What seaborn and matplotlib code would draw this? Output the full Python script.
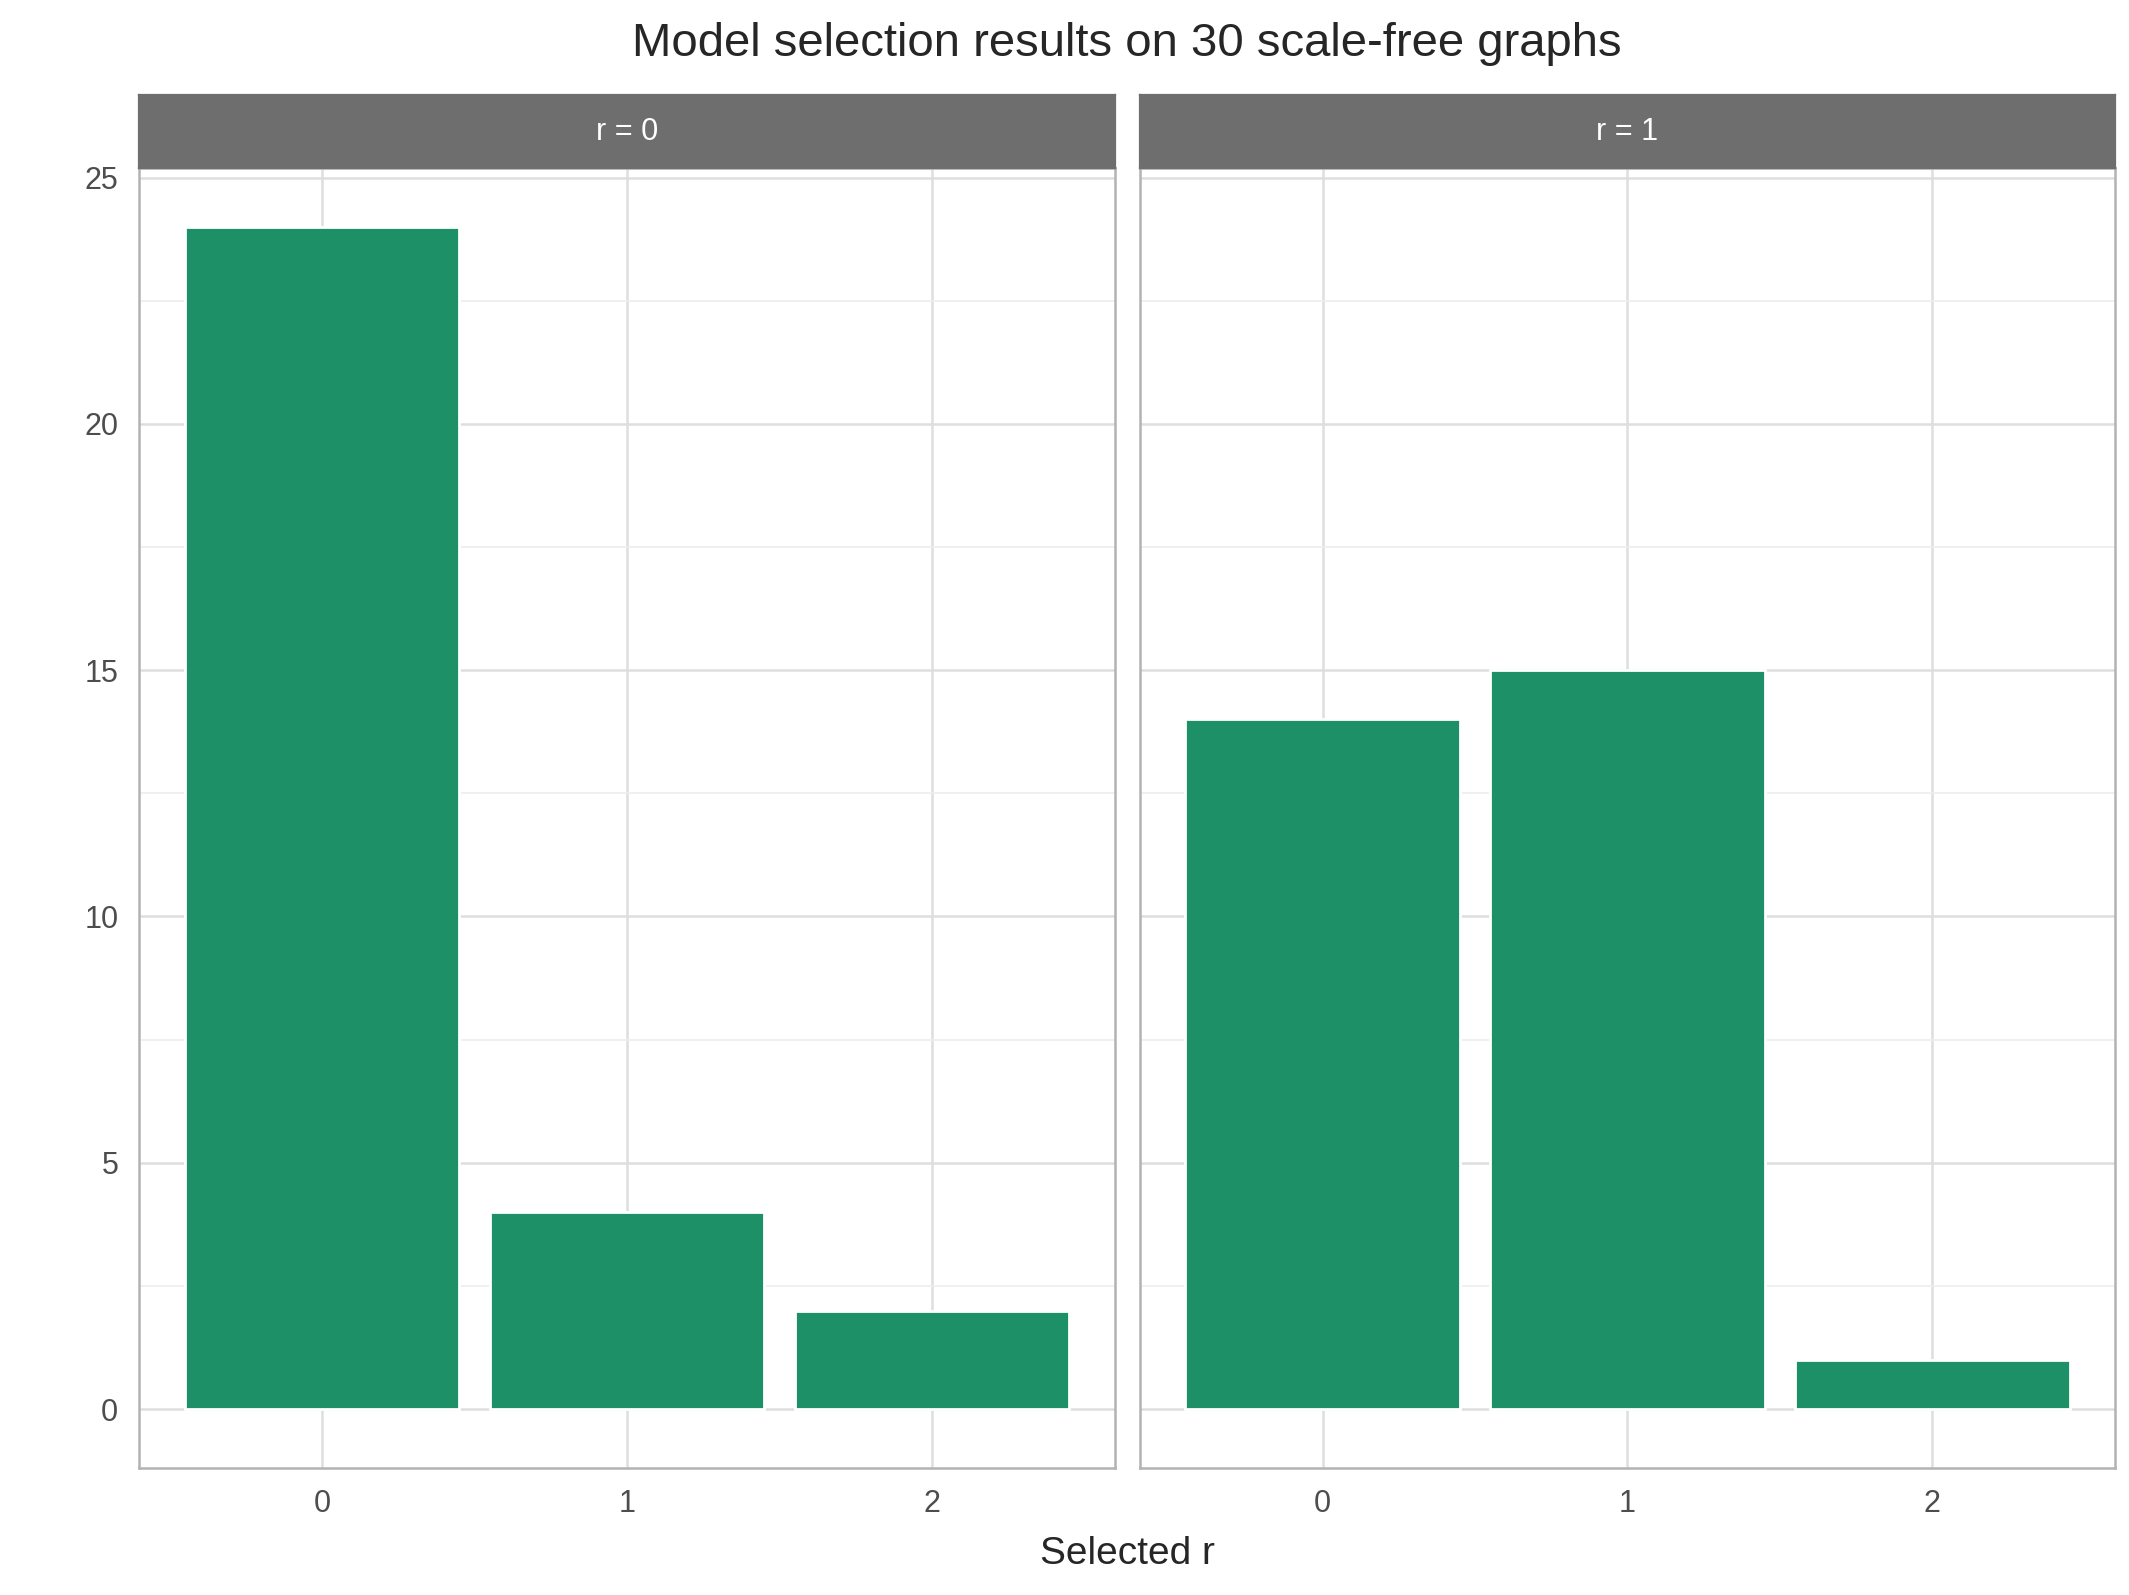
import matplotlib
matplotlib.use('Agg')
import matplotlib.pyplot as plt
import seaborn as sns
import pandas as pd

# counts of selected r per true r
selected = [0, 1, 2]
panels = ['r = 0', 'r = 1']
counts_r0 = [24, 4, 2]
counts_r1 = [14, 15, 1]

df = pd.DataFrame({
    'selected': selected * 2,
    'count': counts_r0 + counts_r1,
    'panel': [panels[0]] * 3 + [panels[1]] * 3,
})

sns.set_style('white')
plt.rcParams['font.family'] = ['Liberation Sans', 'DejaVu Sans']

fig = plt.figure(figsize=(2129 / 200, 1595 / 200), dpi=200)
W, H = 1560, 1170
bottom = 1 - 1077 / H
top = 1 - 123 / H
strip_h = 53 / H
lefts = [102 / W, 835 / W]
pw = 715 / W

for i, (p, left) in enumerate(zip(panels, lefts)):
    ax = fig.add_axes([left, bottom, pw, top - bottom])
    sub = df[df['panel'] == p]
    sns.barplot(data=sub, x='selected', y='count', color='#1D9068', width=0.9,
                saturation=1, ax=ax, zorder=3)
    ax.set_xlim(-0.6, 2.6)
    ax.set_ylim(-1.2, 25.2)
    ax.set_yticks([0, 5, 10, 15, 20, 25])
    ax.set_yticks([2.5, 7.5, 12.5, 17.5, 22.5], minor=True)
    ax.grid(which='major', color='#DEDEDE', linewidth=0.9, zorder=0)
    ax.grid(which='minor', axis='y', color='#EDEDED', linewidth=0.6, zorder=0)
    ax.set_axisbelow(True)
    for s in ax.spines.values():
        s.set_color('#B3B3B3')
        s.set_linewidth(0.9)
    ax.tick_params(axis='both', colors='#B3B3B3', labelcolor='#4D4D4D',
                   labelsize=11, length=4, width=0.9)
    ax.set_xlabel('')
    ax.set_ylabel('')
    if i == 1:
        ax.set_yticklabels([])
    sax = fig.add_axes([left, top, pw, strip_h])
    sax.set_facecolor('#6E6E6E')
    sax.set_xticks([])
    sax.set_yticks([])
    for s in sax.spines.values():
        s.set_color('#6E6E6E')
    sax.text(0.5, 0.5, p, color='white', fontsize=11, ha='center', va='center',
             transform=sax.transAxes)

fig.text(0.5 * (lefts[0] + lefts[1] + pw), 1 - 1140 / H, 'Selected r',
         ha='center', va='center', fontsize=14)
fig.text(0.5 * (lefts[0] + lefts[1] + pw), 1 - 32 / H,
         'Model selection results on 30 scale-free graphs',
         ha='center', va='center', fontsize=17)

fig.savefig('out.png', dpi=200)
